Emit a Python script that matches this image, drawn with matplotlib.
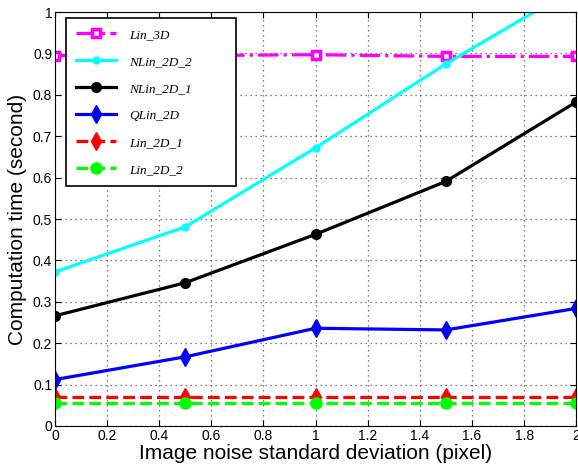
import matplotlib
matplotlib.use('Agg')
import matplotlib.pyplot as plt

noise = [0, 0.5, 1, 1.5, 2]
lin_3d = [0.895, 0.895, 0.897, 0.893, 0.893]
nlin_2d_2 = [0.372, 0.481, 0.672, 0.875, 1.06]
nlin_2d_1 = [0.266, 0.346, 0.463, 0.591, 0.783]
qlin_2d = [0.112, 0.167, 0.236, 0.232, 0.284]
lin_2d_1 = [0.069, 0.069, 0.069, 0.069, 0.069]
lin_2d_2 = [0.056, 0.056, 0.056, 0.056, 0.056]

xticks = [0, 0.2, 0.4, 0.6, 0.8, 1, 1.2, 1.4, 1.6, 1.8, 2]
xticklabels = ['0', '0.2', '0.4', '0.6', '0.8', '1', '1.2', '1.4', '1.6', '1.8', '2']
yticks = [0, 0.1, 0.2, 0.3, 0.4, 0.5, 0.6, 0.7, 0.8, 0.9, 1]
yticklabels = ['0', '0.1', '0.2', '0.3', '0.4', '0.5', '0.6', '0.7', '0.8', '0.9', '1']

plt.rcParams['font.family'] = ['Liberation Sans', 'DejaVu Sans']
fig = plt.figure(figsize=(5.78, 4.66), dpi=100)
ax = fig.add_axes([0.095, 0.086, 0.902, 0.888])

lw = 2.3
ax.plot(noise, lin_3d, '-.', color='#ff00ff', lw=lw, marker='s', ms=6, mfc='white', mew=2.5, label='Lin_3D')
ax.plot(noise, nlin_2d_2, '-', color='#00ffff', lw=lw, marker='o', ms=5, label='NLin_2D_2')
ax.plot(noise, nlin_2d_1, '-', color='black', lw=lw, marker='o', ms=7, label='NLin_2D_1')
ax.plot(noise, qlin_2d, '-', color='#0000ff', lw=lw, marker='d', ms=9, label='QLin_2D')
ax.plot(noise, lin_2d_1, '--', color='#ff0000', lw=lw, marker='d', ms=9, label='Lin_2D_1')
ax.plot(noise, lin_2d_2, '--', color='#00ff00', lw=lw, marker='o', ms=8, label='Lin_2D_2')

ax.set_xlim(0, 2)
ax.set_ylim(0, 1)
ax.set_xticks(xticks)
ax.set_xticklabels(xticklabels)
ax.set_yticks(yticks)
ax.set_yticklabels(yticklabels)
ax.tick_params(which='both', direction='in', top=True, right=True, labelsize=10, length=4, pad=2)
ax.grid(True, linestyle=(0, (1, 3)), color='#555555', lw=0.9)
ax.set_xlabel('Image noise standard deviation (pixel)', fontsize=15, labelpad=1)
ax.set_ylabel('Computation time (second)', fontsize=15, labelpad=4)

leg = ax.legend(loc='upper left', bbox_to_anchor=(0.021, 0.986, 0.326, 0.0), mode='expand', borderaxespad=0,
                prop={'family': 'Liberation Serif', 'style': 'italic', 'size': 9.5},
                fancybox=False, edgecolor='black', framealpha=1, handlelength=3.0, labelspacing=1.12,
                borderpad=0.8, handletextpad=1.0)
leg.get_frame().set_linewidth(1.2)

fig.savefig('out.png', dpi=100)
